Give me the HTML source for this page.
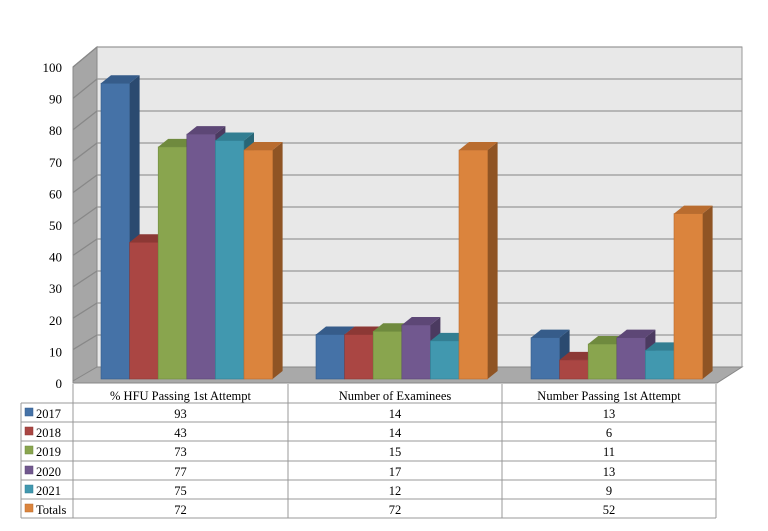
<!DOCTYPE html><html><head><style>body{margin:0;background:#fff}svg{display:block}text{font-family:"Liberation Serif",serif}</style></head><body>
<svg width="768" height="531" xmlns="http://www.w3.org/2000/svg">
<polygon points="97,47 742,47 742,367 97,367" fill="#e8e8e8" stroke="#999" stroke-width="1"/>
<polygon points="73,67 97,47 97,367 73,381" fill="#a6a6a6" stroke="#888"/>
<polygon points="73,381 97,367 742,367 717,383 73,383" fill="#a9a9a9" stroke="#888"/>
<g id="grid" stroke="#999" stroke-width="1.3"></g>
<g id="bars"></g>
<g id="yl" font-size="13" text-anchor="end" fill="#000"></g>
<g id="tbl" font-size="12.5" fill="#000"></g>
<script>
var ns="http://www.w3.org/2000/svg";
function el(p,t,a,txt){var e=document.createElementNS(ns,t);for(var k in a)e.setAttribute(k,a[k]);if(txt!=null)e.textContent=txt;document.getElementById(p).appendChild(e);return e;}
for(var i=1;i<=10;i++){var yb=367-i*32,yf=381-i*31.4;el('grid','line',{x1:97,y1:yb,x2:742,y2:yb});el('grid','line',{x1:73,y1:yf,x2:97,y2:yb,stroke:'#888'});}
for(var i=0;i<=10;i++){el('yl','text',{x:62,y:388-i*31.6},i*10);}
var C=[["#4572a7","#365c8a","#2b4a70"],["#aa4643","#8c3835","#722d2b"],["#89a54e","#6f8a3e","#5b7233"],["#71588f","#5d4776","#4b3a60"],["#4198af","#327e92","#286676"],["#db843d","#b96c2f","#8f5424"]];
var D=[[93,43,73,77,75,72],[14,14,15,17,12,72],[13,6,11,13,9,52]];
var G=[101,316,531],w=28.6,b=379;
for(var g=0;g<3;g++)for(var s=0;s<6;s++){var x=G[g]+s*w,y=b-D[g][s]*3.18,c=C[s];
el('bars','polygon',{points:(x+w)+','+y+' '+(x+w+10)+','+(y-8)+' '+(x+w+10)+','+(b-8)+' '+(x+w)+','+b,fill:c[2]});
el('bars','polygon',{points:x+','+y+' '+(x+10)+','+(y-8)+' '+(x+w+10)+','+(y-8)+' '+(x+w)+','+y,fill:c[1]});
el('bars','rect',{x:x,y:y,width:w,height:b-y,fill:c[0],stroke:c[1],'stroke-width':0.6});}
var cols=[21,73,288,502,716],rows=[384,403,422,441,461,480,499,518];
var hd=["% HFU Passing 1st Attempt","Number of Examinees","Number Passing 1st Attempt"],lb=["2017","2018","2019","2020","2021","Totals"];
for(var c=1;c<4;c++)el('tbl','text',{x:(cols[c]+cols[c+1])/2,y:400,'text-anchor':'middle'},hd[c-1]);
for(var r=0;r<6;r++){var yy=rows[r+1];el('tbl','rect',{x:25,y:yy+5,width:8,height:8,fill:C[r][0],stroke:C[r][1],'stroke-width':0.5});
el('tbl','text',{x:36,y:yy+15},lb[r]);
for(var c=0;c<3;c++)el('tbl','text',{x:(cols[c+1]+cols[c+2])/2,y:yy+15,'text-anchor':'middle'},D[c][r]);}
var st={stroke:'#999','stroke-width':1};
el('tbl','line',Object.assign({x1:73,y1:384,x2:73,y2:518},st));
for(var c=2;c<5;c++)el('tbl','line',Object.assign({x1:cols[c],y1:384,x2:cols[c],y2:518},st));
el('tbl','line',Object.assign({x1:21,y1:403,x2:21,y2:518},st));
for(var r=1;r<8;r++)el('tbl','line',Object.assign({x1:21,y1:rows[r],x2:716,y2:rows[r]},st));
</script>
</svg></body></html>
